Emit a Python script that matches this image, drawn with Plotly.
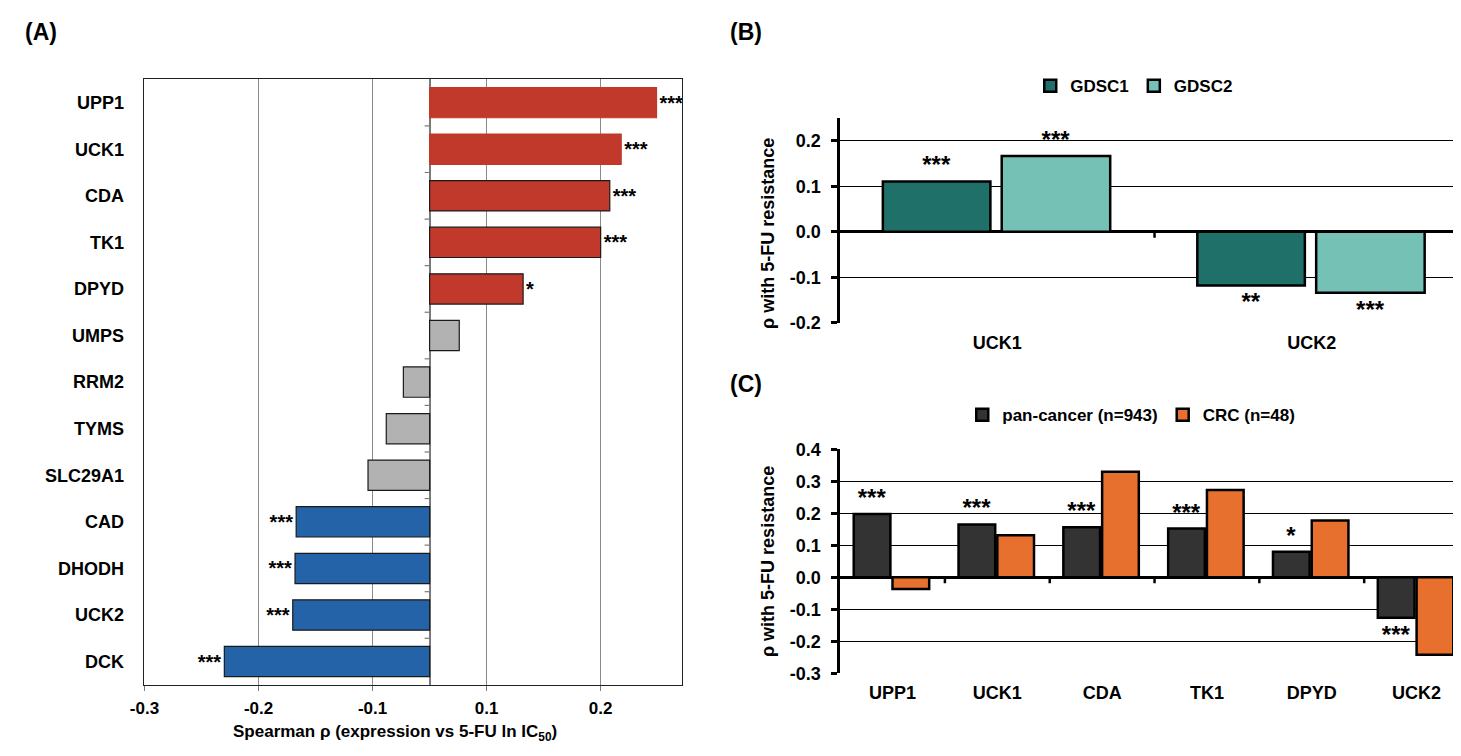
import plotly.graph_objects as go

W, H = 1461, 756

# ---- (A) Spearman rho per gene, top to bottom ----
genes_a = ["UPP1", "UCK1", "CDA", "TK1", "DPYD", "UMPS", "RRM2", "TYMS",
           "SLC29A1", "CAD", "DHODH", "UCK2", "DCK"]
rho_a = [0.249, 0.218, 0.208, 0.200, 0.132, 0.076, -0.073, -0.088,
         -0.104, -0.167, -0.168, -0.170, -0.230]
stars_a = ["***", "***", "***", "***", "*", "", "", "", "", "***", "***", "***", "***"]
ticks_a = [-0.3, -0.2, -0.1, 0.1, 0.2]

# ---- (B) GDSC1 vs GDSC2 ----
genes_b = ["UCK1", "UCK2"]
gdsc1 = [0.111, -0.118]
gdsc2 = [0.167, -0.134]
stars_gdsc1 = ["***", "**"]
stars_gdsc2 = ["***", "***"]
ticks_b = [-0.2, -0.1, 0.0, 0.1, 0.2]

# ---- (C) pan-cancer vs CRC ----
genes_c = ["UPP1", "UCK1", "CDA", "TK1", "DPYD", "UCK2"]
pan = [0.198, 0.165, 0.156, 0.152, 0.080, -0.127]
crc = [-0.037, 0.131, 0.330, 0.273, 0.177, -0.242]
stars_pan = ["***", "***", "***", "***", "*", "***"]
ticks_c = [-0.3, -0.2, -0.1, 0.0, 0.1, 0.2, 0.3, 0.4]

RED, GREY, BLUE = "#C0392B", "#B2B2B2", "#2563A8"
TEAL_D, TEAL_L = "#20706A", "#76C1B5"
DARK, ORANGE = "#333333", "#E8702F"
FONT = "Liberation Sans, Arial, sans-serif"


def shift(v):
    # the panel A axis has no 0 tick: bars start halfway between -0.1 and 0.1
    return v - 0.05 if v > 0 else v + 0.05


colors_a = [RED if v > 0.1 else (BLUE if v < -0.15 else GREY) for v in rho_a]
edges_a = [RED if v > 0.21 else "#1a1a1a" for v in rho_a]


def px(x):
    return x / W


def py(y):
    return 1 - y / H


# axis boxes in pixels (left, right, top, bottom)
A_BOX = (123, 666, 63, 685)
B_BOX = (826, 1461, 103, 313)
C_BOX = (826, 1461, 443, 673)
A_RANGE = [-0.2506, 0.221]
B_RANGE = [-0.2, 0.25]
C_RANGE = [-0.3, 0.4]

fig = go.Figure()

fig.add_trace(go.Bar(
    x=[shift(v) for v in rho_a], y=genes_a, orientation="h", width=0.65,
    marker=dict(color=colors_a, line=dict(color=edges_a, width=1.2)),
    text=stars_a, textposition="outside", cliponaxis=False,
    textfont=dict(size=20, color="black"),
    xaxis="x", yaxis="y", showlegend=False))

star_font = dict(size=24, color="black")
fig.add_trace(go.Bar(
    x=genes_b, y=gdsc1, name="GDSC1", width=0.342, offset=-0.364,
    marker=dict(color=TEAL_D, line=dict(color="black", width=2.5)),
    text=stars_gdsc1, textposition="outside", cliponaxis=False, textangle=0,
    constraintext="none", textfont=star_font,
    xaxis="x2", yaxis="y2", legend="legend"))
fig.add_trace(go.Bar(
    x=genes_b, y=gdsc2, name="GDSC2", width=0.345, offset=0.014,
    marker=dict(color=TEAL_L, line=dict(color="black", width=2.5)),
    text=stars_gdsc2, textposition="outside", cliponaxis=False, textangle=0,
    constraintext="none", textfont=star_font,
    xaxis="x2", yaxis="y2", legend="legend"))

fig.add_trace(go.Bar(
    x=genes_c, y=pan, name="pan-cancer (n=943)", width=0.35, offset=-0.37,
    marker=dict(color=DARK, line=dict(color="black", width=2.5)),
    text=stars_pan, textposition="outside", cliponaxis=False, textangle=0,
    constraintext="none", textfont=star_font,
    xaxis="x3", yaxis="y3", legend="legend2"))
fig.add_trace(go.Bar(
    x=genes_c, y=crc, name="CRC (n=48)", width=0.35, offset=0.0,
    marker=dict(color=ORANGE, line=dict(color="black", width=2.5)),
    xaxis="x3", yaxis="y3", legend="legend2"))

lab18 = dict(size=18, color="black")


def value_axis(box, rng, ticks):
    return dict(domain=[py(box[3]), py(box[2])], range=rng,
                tickvals=ticks, ticktext=[f"{t:.1f}" for t in ticks],
                showgrid=True, gridcolor="black", gridwidth=1,
                zeroline=True, zerolinecolor="black", zerolinewidth=2.5,
                showline=True, linecolor="black", linewidth=2.5,
                ticks="outside", ticklen=6, tickwidth=2.5, tickcolor="black",
                ticklabelstandoff=7, tickfont=lab18)


def cat_axis(box, n):
    return dict(domain=[px(box[0]), px(box[1])], type="category",
                range=[-0.5, n - 0.5], showgrid=False, showline=False,
                ticks="", ticklabelstandoff=7, tickfont=lab18)


fig.update_layout(
    width=W, height=H, margin=dict(l=0, r=0, t=0, b=0),
    paper_bgcolor="white", plot_bgcolor="white",
    font=dict(family=FONT, weight="bold", color="black"),
    barmode="group",
    xaxis=dict(domain=[px(A_BOX[0]), px(A_BOX[1])], anchor="y", range=A_RANGE,
               tickvals=[shift(t) for t in ticks_a],
               ticktext=[f"{t:.1f}" for t in ticks_a],
               showgrid=True, gridcolor="#8a8a8a", gridwidth=1,
               zeroline=True, zerolinecolor="#7a7a7a", zerolinewidth=1.5,
               showline=True, linecolor="#222222", linewidth=1.3, mirror=True,
               ticks="outside", ticklen=5, tickcolor="#7a7a7a",
               ticklabelstandoff=3, tickfont=dict(size=17, color="black")),
    yaxis=dict(domain=[py(A_BOX[3]), py(A_BOX[2])], anchor="x", type="category",
               range=[len(genes_a) - 0.5, -0.5], showgrid=False, zeroline=False,
               showline=True, linecolor="#222222", linewidth=1.3, mirror=True,
               ticks="", ticklabelstandoff=15, tickfont=lab18),
    xaxis2=dict(anchor="y2", **cat_axis(B_BOX, len(genes_b))),
    yaxis2=dict(anchor="x2", **value_axis(B_BOX, B_RANGE, ticks_b)),
    xaxis3=dict(anchor="y3", **cat_axis(C_BOX, len(genes_c))),
    yaxis3=dict(anchor="x3", **value_axis(C_BOX, C_RANGE, ticks_c)),
    legend=dict(orientation="h", x=px(1123), y=py(70), xanchor="center",
                yanchor="middle", font=dict(size=17), itemwidth=30,
                bgcolor="rgba(0,0,0,0)"),
    legend2=dict(orientation="h", x=px(1120), y=py(408), xanchor="center",
                 yanchor="middle", font=dict(size=17), itemwidth=30,
                 bgcolor="rgba(0,0,0,0)"),
)

# short tick marks on the zero lines, between categories
for i in range(len(genes_a) - 1):
    fig.add_shape(type="line", xref="x", yref="y", xsizemode="pixel",
                  xanchor=0, x0=-5, x1=0, y0=i + 0.5, y1=i + 0.5,
                  line=dict(color="#7a7a7a", width=1.2))
for xr, yr, n in (("x2", "y2", len(genes_b)), ("x3", "y3", len(genes_c))):
    for i in range(n):
        fig.add_shape(type="line", xref=xr, yref=yr, ysizemode="pixel",
                      yanchor=0, y0=-6, y1=0, x0=i + 0.5, x1=i + 0.5,
                      line=dict(color="black", width=2.5))

notes = [
    dict(text="(A)", x=px(1), y=py(14), xanchor="left", font=dict(size=23)),
    dict(text="(B)", x=px(713), y=py(14), xanchor="left", font=dict(size=23)),
    dict(text="(C)", x=px(713), y=py(376), xanchor="left", font=dict(size=23)),
    dict(text="Spearman ρ (expression vs 5-FU ln IC<sub>50</sub>)",
         x=px(377), y=py(734), xanchor="center", font=dict(size=17)),
    dict(text="ρ with 5-FU resistance", x=px(753), y=py(221), xanchor="center",
         textangle=-90, font=dict(size=18)),
    dict(text="ρ with 5-FU resistance", x=px(753), y=py(558), xanchor="center",
         textangle=-90, font=dict(size=18)),
]
for n in notes:
    fig.add_annotation(xref="paper", yref="paper", showarrow=False,
                       yanchor="middle", **n)

fig.write_html("out.html")
